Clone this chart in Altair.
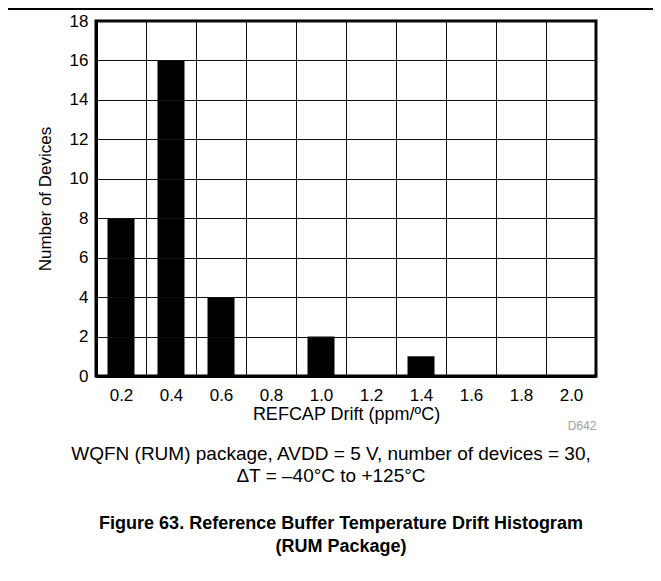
import altair as alt
import pandas as pd

# ---- data ----
drift_bins = ["0.2", "0.4", "0.6", "0.8", "1.0", "1.2", "1.4", "1.6", "1.8", "2.0"]
device_counts = [8, 16, 4, 0, 2, 0, 1, 0, 0, 0]
y_tick_values = [0, 2, 4, 6, 8, 10, 12, 14, 16, 18]

x_title = "REFCAP Drift (ppm/ºC)"
y_title = "Number of Devices"
code_label = "D642"
caption_lines = [
    "WQFN (RUM) package, AVDD = 5 V, number of devices = 30,",
    "\u0394T = \u201340\u00b0C to +125\u00b0C",
]
figure_lines = [
    "Figure 63. Reference Buffer Temperature Drift Histogram",
    "(RUM Package)",
]

FONT = "Liberation Sans"
W, H = 500, 355

df = pd.DataFrame({"drift": drift_bins, "count": device_counts})

bars = alt.Chart(df).mark_bar(color="black", width=alt.RelativeBandSize(0.54)).encode(
    x=alt.X(
        "drift:O",
        sort=drift_bins,
        scale=alt.Scale(paddingInner=0, paddingOuter=0),
        axis=alt.Axis(
            title=x_title,
            tickBand="extent",
            grid=True,
            gridColor="#111111",
            gridWidth=1,
            ticks=False,
            tickSize=0,
            domain=True,
            domainColor="black",
            domainWidth=3,
            labelAngle=0,
            labelFont=FONT,
            labelFontSize=17,
            labelColor="black",
            labelBaseline="middle",
            labelPadding=19,
            titleFont=FONT,
            titleFontSize=18,
            titleFontWeight="normal",
            titleColor="black",
            titleX=W / 2,
            titleY=38,
            titleBaseline="middle",
            zindex=1,
        ),
    ),
    y=alt.Y(
        "count:Q",
        scale=alt.Scale(domain=[0, 18], nice=False),
        axis=alt.Axis(
            title=y_title,
            values=y_tick_values,
            grid=True,
            gridColor="#111111",
            gridWidth=1,
            ticks=False,
            tickSize=0,
            domain=True,
            domainColor="black",
            domainWidth=3,
            labelFont=FONT,
            labelFontSize=17,
            labelColor="black",
            labelPadding=8,
            titleFont=FONT,
            titleFontSize=17,
            titleFontWeight="normal",
            titleColor="black",
            titleAngle=270,
            titleX=-51,
            titleY=H / 2,
            titleAlign="center",
            titleBaseline="middle",
            zindex=1,
        ),
    ),
)

one = pd.DataFrame({"k": [0]})

top_rule = alt.Chart(one).mark_rule(color="black", strokeWidth=2).encode(
    x=alt.value(-88), x2=alt.value(557), y=alt.value(-12)
)

def text_layer(txt, x, y, size, weight="normal", color="black", align="center"):
    return alt.Chart(pd.DataFrame({"t": [txt]})).mark_text(
        font=FONT, fontSize=size, fontWeight=weight, color=color,
        align=align, baseline="middle"
    ).encode(text="t:N", x=alt.value(x), y=alt.value(y))

texts = [
    text_layer(code_label, 486, 405, 12, color="#a0a0a0"),
    text_layer(caption_lines[0], 235, 433, 19),
    text_layer(caption_lines[1], 235, 455, 19),
    text_layer(figure_lines[0], 245, 503, 18, weight="bold"),
    text_layer(figure_lines[1], 245, 526, 18, weight="bold"),
]

chart = alt.layer(bars, top_rule, *texts).properties(
    width=W,
    height=H,
    autosize=alt.AutoSizeParams(type="none"),
    padding={"left": 88, "top": 13, "right": 57, "bottom": 200},
).configure_view(stroke="black", strokeWidth=3)

chart.save("out.html", embed_options={"renderer": "svg", "actions": False})
